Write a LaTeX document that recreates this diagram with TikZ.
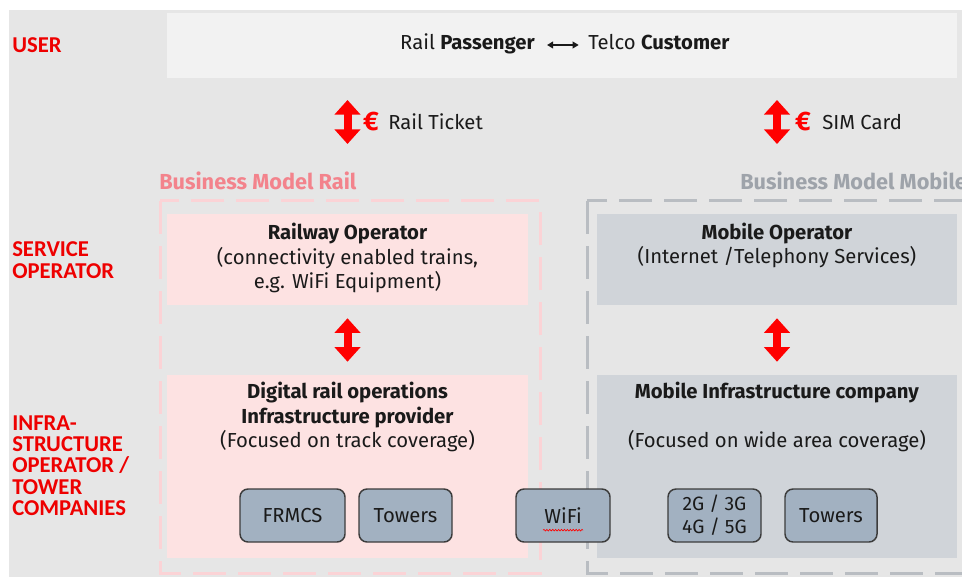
\documentclass[tikz,border=0pt]{standalone}
\usepackage{fontspec}
\setmainfont{Fira Sans}
\newfontfamily\layerfont{Carlito}
\usetikzlibrary{arrows.meta,positioning,decorations.pathmorphing}
\definecolor{bggrey}{HTML}{E6E6E6}
\definecolor{userfill}{HTML}{F2F2F2}
\definecolor{railfill}{HTML}{FDE2E2}
\definecolor{mobfill}{HTML}{D0D4D9}
\definecolor{techfill}{HTML}{A2B1C1}
\definecolor{techline}{HTML}{3C3C3C}
\definecolor{layerred}{HTML}{EE0000}
\definecolor{railpink}{HTML}{F3838C}
\definecolor{raildash}{HTML}{FBD3D6}
\definecolor{mobgrey}{HTML}{9EA3AA}
\definecolor{mobdash}{HTML}{B9BDC2}
\definecolor{ink}{HTML}{1A1A1A}
\tikzstyle{bigarrow} = [line width=6pt,red,{Triangle[length=11pt,width=19pt]}-{Triangle[length=11pt,width=19pt]}]
\tikzstyle{smallarrow} = [line width=1.1pt,ink,{Triangle[length=4.5pt,width=5pt]}-{Triangle[length=4.5pt,width=5pt]}]
\tikzstyle{layer} = [font=\layerfont\bfseries\fontsize{17}{16}\selectfont,text=layerred,align=left,anchor=west,inner sep=0pt]
\tikzstyle{railbox} = [fill=railfill,minimum width=270.75pt,inner sep=0pt]
\tikzstyle{mobbox} = [fill=mobfill,minimum width=270pt,inner sep=0pt]
\tikzstyle{techbox} = [draw=techline,fill=techfill,line width=1.1pt,rounded corners=6pt,minimum height=39.75pt,inner sep=0pt,text=ink]
\tikzstyle{txt} = [align=center,text=ink,inner sep=0pt]
\tikzstyle{usertxt} = [txt,text height=11pt,text depth=3.5pt]
\tikzstyle{euro} = [font=\bfseries\fontsize{20}{20}\selectfont,text=red,inner sep=0pt]
\tikzstyle{model} = [anchor=west,inner sep=0pt,font=\bfseries\fontsize{16.3}{18}\selectfont]

\begin{document}
\begin{tikzpicture}[x=0.75pt,y=-0.75pt,every node/.append style={font=\fontsize{15.2}{18.4}\selectfont}]
\useasboundingbox (0,0) rectangle (962,577);
\fill[white] (0,0) rectangle (962,577);
\fill[bggrey] (9,10) rectangle (962,577);

% user row
\node[fill=userfill,minimum width=592.5pt,minimum height=48.75pt,inner sep=0pt] (user) at (562,45.5) {};
\node[usertxt,anchor=east] (passenger) at (535,45) {Rail \textbf{Passenger}};
\node[usertxt,anchor=west] (customer) at (588,45) {Telco \textbf{Customer}};
\draw[smallarrow,shorten <=9pt,shorten >=7pt] (passenger) -- (customer);

% layer labels
\node[layer] (lbluser) at (12,45) {USER};
\node[layer] (lblservice) at (12,260) {SERVICE\\OPERATOR};
\node[layer] (lblinfra) at (12,465.5) {INFRA-\\STRUCTURE\\OPERATOR /\\TOWER\\COMPANIES};

% payment arrows
\coordinate (ticktop) at (347.5,100);
\coordinate (tickbot) at (347.5,144);
\draw[bigarrow] (ticktop) -- (tickbot);
\node[euro] (eurorail) at (371,122) {€};
\node[txt,anchor=west] (ticket) at (388,122) {Rail Ticket};
\coordinate (simtop) at (777,100);
\coordinate (simbot) at (777,144);
\draw[bigarrow] (simtop) -- (simbot);
\node[euro] (euromob) at (803,122) {€};
\node[txt,anchor=west] (sim) at (822,122) {SIM Card};

% business model frames
\node[model,text=railpink] (bmrail) at (159,181) {Business Model Rail};
\node[model,text=mobgrey] (bmmob) at (740,181) {Business Model Mobile};
\draw[raildash,line width=2.25pt,dash pattern=on 24.75pt off 9pt] (160,201) rectangle (540,573);
\draw[mobdash,line width=2.25pt,dash pattern=on 24.75pt off 9pt] (587,201) rectangle (990,573);

% service operators
\node[railbox,minimum height=68.25pt] (railop) at (347.5,259.5) {};
\node[txt] (railoptext) at (347.5,258) {\textbf{Railway Operator}\\(connectivity enabled trains,\\e.g. WiFi Equipment)};
\node[mobbox,minimum height=68.25pt] (mobop) at (777,259.5) {};
\node[txt] (moboptext) at (777,245.5) {\textbf{Mobile Operator}\\(Internet /Telephony Services)};

% infrastructure
\node[railbox,minimum height=137.25pt] (railinfra) at (347.5,466.5) {};
\node[txt] (railinfratext) at (347.5,417) {\textbf{Digital rail operations}\\\textbf{Infrastructure provider}\\(Focused on track coverage)};
\node[mobbox,minimum height=137.25pt] (mobinfra) at (777,466.5) {};
\node[txt] (mobinfratext) at (777,417) {\textbf{Mobile Infrastructure company}\\[18.4pt](Focused on wide area coverage)};

\draw[bigarrow,shorten <=9.75pt,shorten >=9.75pt] (railop) -- (railinfra);
\draw[bigarrow,shorten <=9.75pt,shorten >=9.75pt] (mobop) -- (mobinfra);

% technology boxes
\node[techbox,minimum width=78.75pt] (frmcs) at (292.5,515.5) {FRMCS};
\node[techbox,minimum width=69.75pt] (railtowers) at (405.5,515.5) {Towers};
\node[techbox,minimum width=70.5pt] (wifi) at (563,515.5) {WiFi};
\node[techbox,minimum width=69.75pt,align=center,font=\fontsize{14.5}{17}\selectfont] (cellular) at (714.5,515.5) {2G / 3G\\4G / 5G};
\node[techbox,minimum width=69pt] (mobtowers) at (831,515.5) {Towers};
\draw[red,line width=0.5pt,decorate,decoration={snake,amplitude=0.6pt,segment length=2.2pt}]
    ([xshift=-15pt,yshift=-11pt]wifi.center) -- ([xshift=15pt,yshift=-11pt]wifi.center);
\end{tikzpicture}
\end{document}
